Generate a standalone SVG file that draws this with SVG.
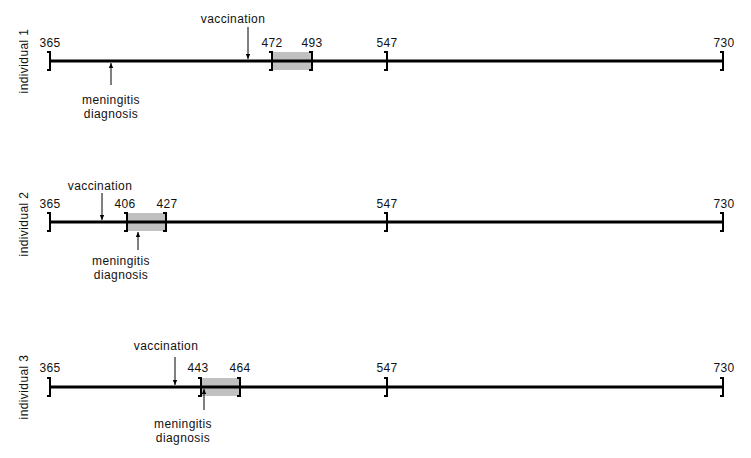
<svg xmlns="http://www.w3.org/2000/svg" width="751" height="458" viewBox="0 0 751 458">
<style>
text{font-family:"Liberation Sans",Arial,sans-serif;font-size:12px;fill:#111;letter-spacing:0.4px}
.m{text-anchor:middle}
.axis{stroke:#000;stroke-width:3;fill:none}
.br{stroke:#000;stroke-width:2;fill:none}
.box{fill:#c0c0c0;stroke:none}
.arr{stroke:#000;stroke-width:1;fill:none;marker-end:url(#ah)}
</style>
<defs>
<marker id="ah" markerUnits="userSpaceOnUse" markerWidth="6" markerHeight="6" refX="5" refY="3" orient="auto">
<path d="M0,0.8 L5,3 L0,5.2 z" fill="#000"/>
</marker>
</defs>
<rect width="751" height="458" fill="#fff"/>

<g id="individual1">
<text class="m" transform="translate(28,61) rotate(-90)">individual 1</text>
<rect class="box" x="272" y="52" width="40" height="18"/>
<line class="axis" x1="50" y1="61" x2="723" y2="61"/>
<path class="br" d="M47,52 H50 V70 H47 M269,52 H272 V70 H269 M309,52 H312 V70 H309 M384,52 H387 V70 H384 M720,52 H723 V70 H720"/>
<text class="m" x="50" y="47">365</text>
<text class="m" x="272" y="47">472</text>
<text class="m" x="312" y="47">493</text>
<text class="m" x="387" y="47">547</text>
<text class="m" x="724" y="47">730</text>
<text class="m" x="233" y="23">vaccination</text>
<text class="m" x="111" y="104">meningitis</text>
<text class="m" x="111" y="118">diagnosis</text>
</g>

<g id="individual2">
<text class="m" transform="translate(28,224) rotate(-90)">individual 2</text>
<rect class="box" x="127" y="213" width="39" height="18"/>
<line class="axis" x1="50" y1="222" x2="723" y2="222"/>
<path class="br" d="M47,213 H50 V231 H47 M124,213 H127 V231 H124 M163,213 H166 V231 H163 M384,213 H387 V231 H384 M720,213 H723 V231 H720"/>
<text class="m" x="50" y="208">365</text>
<text class="m" x="125" y="208">406</text>
<text class="m" x="167" y="208">427</text>
<text class="m" x="387" y="208">547</text>
<text class="m" x="724" y="208">730</text>
<text class="m" x="100" y="190">vaccination</text>
<text class="m" x="121" y="265">meningitis</text>
<text class="m" x="121" y="279">diagnosis</text>
</g>

<g id="individual3">
<text class="m" transform="translate(28,387) rotate(-90)">individual 3</text>
<rect class="box" x="201" y="378" width="39" height="18"/>
<line class="axis" x1="50" y1="387" x2="723" y2="387"/>
<path class="br" d="M47,378 H50 V396 H47 M198,378 H201 V396 H198 M237,378 H240 V396 H237 M384,378 H387 V396 H384 M720,378 H723 V396 H720"/>
<text class="m" x="50" y="372">365</text>
<text class="m" x="198" y="372">443</text>
<text class="m" x="240" y="372">464</text>
<text class="m" x="387" y="372">547</text>
<text class="m" x="724" y="372">730</text>
<text class="m" x="166" y="350">vaccination</text>
<text class="m" x="183" y="428">meningitis</text>
<text class="m" x="183" y="442">diagnosis</text>
</g>

<g id="connectors">
<line class="arr" x1="248" y1="27" x2="248" y2="59"/>
<line class="arr" x1="111" y1="85" x2="111" y2="63"/>
<line class="arr" x1="102" y1="193" x2="102" y2="220"/>
<line class="arr" x1="138" y1="250" x2="138" y2="232"/>
<line class="arr" x1="175" y1="357" x2="175" y2="385"/>
<line class="arr" x1="204" y1="410" x2="204" y2="389"/>
</g>
</svg>
